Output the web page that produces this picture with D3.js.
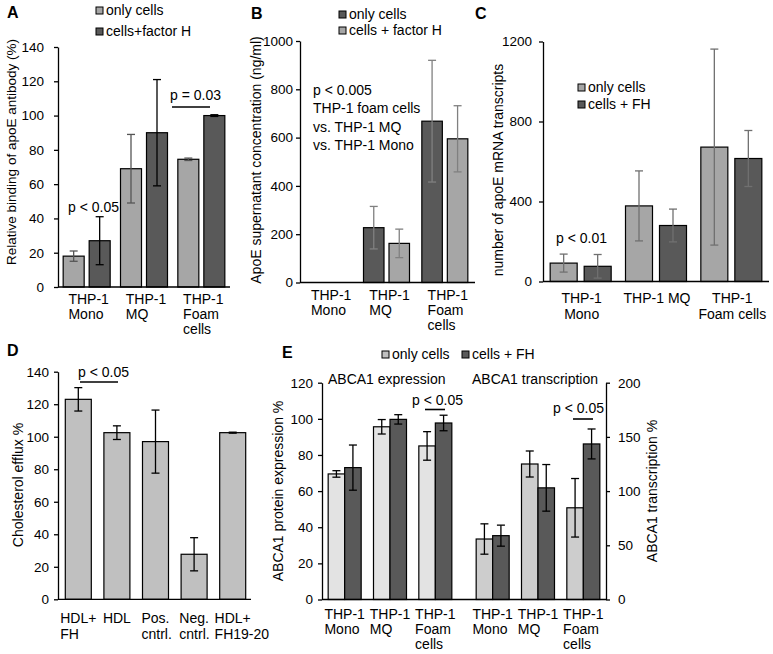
<!DOCTYPE html>
<html><head><meta charset="utf-8">
<script src="https://cdn.jsdelivr.net/npm/d3@7"></script>
<style>body{margin:0;background:#fff}svg{display:block}</style>
</head><body><svg id="c" width="773" height="654"></svg>
<script>
// ---------- DATA ----------
const catsABC = [["THP-1","Mono"],["THP-1","MQ"],["THP-1","Foam","cells"]];
const catsC   = [["THP-1","Mono"],["THP-1 MQ"],["THP-1","Foam cells"]];
const catsD   = [["HDL+","FH"],["HDL"],["Pos.","cntrl."],["Neg.","cntrl."],["HDL+","FH19-20"]];
const catsE   = [["THP-1","Mono"],["THP-1","MQ"],["THP-1","Foam","cells"]];

// A: relative binding of apoE antibody (%)
const aOnly = [18, 69, 74.5],   aOnlyErr = [3, 20, 0.7];
const aFH   = [27, 90, 100],    aFHErr   = [14, 31, 0.5];
// B: ApoE supernatant concentration (ng/ml)
const bOnly = [0, 227, 668],    bOnlyErr = [0, 88, 252];
const bFH   = [0, 162, 595],    bFHErr   = [0, 59, 137];
// C: number of apoE mRNA transcripts
const cOnly = [92, 378, 672],   cOnlyErr = [45, 175, 490];
const cFH   = [76, 280, 615],   cFHErr   = [59, 82, 140];
// D: cholesterol efflux %
const dVals = [123, 102.5, 97, 27.7, 102.5];
const dErr  = [7.2, 4.2, 19.4, 10.2, 0.3];
// E: ABCA1 protein expression % (left) and transcription % (right)
const eExpOnly = [69.5, 95.6, 85],  eExpOnlyErr = [1.8, 4, 7.9];
const eExpFH   = [73, 99.7, 97.7],  eExpFHErr   = [12.5, 2.6, 4.3];
const eTrOnly  = [55.8, 125, 84.6], eTrOnlyErr  = [14, 12, 27];
const eTrFH    = [58.9, 103, 143.5],eTrFHErr    = [9.7, 21.5, 13.8];

const ticksA  = [0,20,40,60,80,100,120,140];
const ticksB  = [0,200,400,600,800,1000];
const ticksC  = [0,400,800,1200];
const ticksD  = [0,20,40,60,80,100,120,140];
const ticksEL = [0,20,40,60,80,100,120];
const ticksER = [0,50,100,150,200];

// ---------- DRAWING ----------
const F = "'Liberation Sans', Arial, Helvetica, sans-serif";
const svg = d3.select("#c");
const LIGHT = "#a6a6a6", DARK = "#595959";

function txt(x, y, s, opt = {}) {
  return svg.append("text").attr("x", x).attr("y", y).text(s)
    .attr("font-family", F).attr("font-size", opt.size || 14)
    .attr("font-weight", opt.bold ? "bold" : "normal")
    .attr("text-anchor", opt.anchor || "start").attr("fill", "#000");
}
function vtxt(cx, cy, s, size = 14) {
  svg.append("text").attr("transform", `translate(${cx},${cy}) rotate(-90)`)
    .attr("text-anchor", "middle").attr("dominant-baseline", "central")
    .attr("font-family", F).attr("font-size", size).text(s);
}
function yAxis(x, y, ticks, side, pad) {
  const ax = (side === "left" ? d3.axisLeft(y) : d3.axisRight(y))
    .tickValues(ticks).tickSize(4).tickSizeOuter(0).tickPadding(pad).tickFormat(d3.format("d"));
  const g = svg.append("g").attr("transform", `translate(${x},0)`).call(ax)
    .attr("font-family", F).attr("font-size", 13.5);
  g.select(".domain").attr("stroke", "#000").attr("stroke-width", 1.3);
  g.selectAll(".tick line").attr("stroke", "#000").attr("stroke-width", 1.3);
  g.selectAll(".tick text").attr("fill", "#000");
}
function xLine(x0, x1, y) {
  svg.append("line").attr("x1", x0).attr("x2", x1).attr("y1", y).attr("y2", y)
    .attr("stroke", "#000").attr("stroke-width", 1.3);
}
function series(xb, y, vals, errs, off, w, fill, errColor) {
  const g = svg.append("g");
  vals.forEach((v, i) => {
    if (v <= 0) return;
    const x = xb(i) + xb.bandwidth() / 2 + off;
    g.append("rect").attr("x", x).attr("y", y(v)).attr("width", w).attr("height", y(0) - y(v))
      .attr("fill", fill).attr("stroke", "#000").attr("stroke-width", 1.2);
  });
  vals.forEach((v, i) => {
    if (v <= 0) return;
    const cx = xb(i) + xb.bandwidth() / 2 + off + w / 2, e = errs[i];
    const y1 = y(v + e), y2 = y(Math.max(0, v - e));
    g.append("line").attr("x1", cx).attr("x2", cx).attr("y1", y1).attr("y2", y2)
      .attr("stroke", errColor).attr("stroke-width", 1.3);
    [y1, y2].forEach(yy => g.append("line").attr("x1", cx - 4).attr("x2", cx + 4)
      .attr("y1", yy).attr("y2", yy).attr("stroke", errColor).attr("stroke-width", 1.3));
  });
}
function catLabels(centers, cats, base, lh, mode) {
  cats.forEach((lines, i) => {
    const t = svg.append("text").attr("font-family", F).attr("font-size", 14);
    const spans = lines.map((s, k) => t.append("tspan").attr("y", base + k * lh).text(s));
    if (mode === "center") {
      t.attr("text-anchor", "middle");
      spans.forEach(sp => sp.attr("x", centers[i]));
    } else {
      const w0 = spans[0].node().getComputedTextLength();
      spans.forEach(sp => sp.attr("x", centers[i] - w0 / 2));
    }
  });
}
function legendItem(x, y, fill, label, size = 14) {
  svg.append("rect").attr("x", x).attr("y", y).attr("width", 7).attr("height", 7)
    .attr("fill", fill).attr("stroke", "#000").attr("stroke-width", 1);
  txt(x + 10, y + 8, label, { size });
}
function sigLine(x1, x2, y) {
  svg.append("line").attr("x1", x1).attr("x2", x2).attr("y1", y).attr("y2", y)
    .attr("stroke", "#000").attr("stroke-width", 1.6);
}

// ---- Panel A ----
{
  const xb = d3.scaleBand().domain(d3.range(3)).range([58, 230]);
  const y = d3.scaleLinear().domain([0, 140]).range([287, 47]);
  series(xb, y, aOnly, aOnlyErr, -23.5, 21, LIGHT, "#555");
  series(xb, y, aFH, aFHErr, 2.5, 21, DARK, "#000");
  yAxis(58, y, ticksA, "left", 10);
  xLine(58, 230, 287);
  catLabels(d3.range(3).map(i => xb(i) + xb.bandwidth() / 2 + 2), catsABC, 304, 15, "left");
  vtxt(11, 152, "Relative binding of apoE antibody (%)", 13.5);
  txt(7, 18, "A", { bold: true, size: 16 });
  legendItem(96, 7, LIGHT, "only cells");
  legendItem(96, 28, DARK, "cells+factor H");
  txt(68, 212, "p < 0.05");
  txt(170, 100, "p = 0.03");
  sigLine(172, 210, 107);
}
// ---- Panel B ----
{
  const xb = d3.scaleBand().domain(d3.range(3)).range([300, 475]);
  const y = d3.scaleLinear().domain([0, 1000]).range([282.5, 41]);
  series(xb, y, bOnly, bOnlyErr, -24, 20.5, DARK, "#808080");
  series(xb, y, bFH, bFHErr, 1.5, 20.5, LIGHT, "#808080");
  yAxis(300, y, ticksB, "left", 3);
  xLine(300, 475, 282.5);
  catLabels(d3.range(3).map(i => xb(i) + xb.bandwidth() / 2 + 2), catsABC, 300, 15, "left");
  vtxt(256, 160, "ApoE supernatant concentration (ng/ml)", 14);
  txt(251, 19, "B", { bold: true, size: 16 });
  legendItem(339, 11, DARK, "only cells");
  legendItem(339, 27, LIGHT, "cells + factor H");
  ["p < 0.005", "THP-1 foam cells", "vs. THP-1 MQ", "vs. THP-1 Mono"]
    .forEach((s, k) => txt(313, 95 + k * 18.3, s));
}
// ---- Panel C ----
{
  const xb = d3.scaleBand().domain(d3.range(3)).range([543, 769]);
  const y = d3.scaleLinear().domain([0, 1200]).range([281.5, 41.5]);
  series(xb, y, cOnly, cOnlyErr, -30.5, 27, LIGHT, "#707070");
  series(xb, y, cFH, cFHErr, 3.5, 27, DARK, "#707070");
  yAxis(543, y, ticksC, "left", 7);
  xLine(543, 769, 281.5);
  catLabels(d3.range(3).map(i => xb(i) + xb.bandwidth() / 2 + 1), catsC, 303, 16, "center");
  vtxt(498, 170, "number of apoE mRNA transcripts", 14);
  txt(475, 19, "C", { bold: true, size: 16 });
  legendItem(578, 84, LIGHT, "only cells");
  legendItem(578, 101, DARK, "cells + FH");
  txt(556, 243, "p < 0.01");
}
// ---- Panel D ----
{
  const xb = d3.scaleBand().domain(d3.range(5)).range([58, 251]);
  const y = d3.scaleLinear().domain([0, 140]).range([599.3, 371.7]);
  series(xb, y, dVals, dErr, -12, 26, "#c0c0c0", "#000");
  yAxis(58, y, ticksD, "left", 5);
  xLine(58, 251, 599.3);
  catLabels(d3.range(5).map(i => xb(i) + xb.bandwidth() / 2 + 1), catsD, 623, 16, "left");
  vtxt(18, 485, "Cholesterol efflux %", 14);
  txt(7, 356, "D", { bold: true, size: 16 });
  txt(78, 377, "p < 0.05");
  sigLine(80, 118, 382);
}
// ---- Panel E ----
{
  const xl = d3.scaleBand().domain(d3.range(3)).range([322, 458]);
  const xr = d3.scaleBand().domain(d3.range(3)).range([470, 606]);
  const yl = d3.scaleLinear().domain([0, 120]).range([599.5, 382.7]);
  const yr = d3.scaleLinear().domain([0, 200]).range([599.5, 382.7]);
  series(xl, yl, eExpOnly, eExpOnlyErr, -16.5, 16.5, "#e3e3e3", "#000");
  series(xl, yl, eExpFH, eExpFHErr, 0, 16.5, DARK, "#000");
  series(xr, yr, eTrOnly, eTrOnlyErr, -16.5, 16.5, "#cdcdcd", "#000");
  series(xr, yr, eTrFH, eTrFHErr, 0, 16.5, DARK, "#000");
  yAxis(322, yl, ticksEL, "left", 5);
  yAxis(606, yr, ticksER, "right", 8);
  xLine(322, 606, 599.5);
  catLabels(d3.range(3).map(i => xl(i) + xl.bandwidth() / 2), catsE, 619, 15, "left");
  catLabels(d3.range(3).map(i => xr(i) + xr.bandwidth() / 2), catsE, 619, 15, "left");
  vtxt(278, 491, "ABCA1 protein expression %", 14);
  vtxt(652, 491, "ABCA1 transcription %", 14);
  txt(282, 358, "E", { bold: true, size: 16 });
  legendItem(382, 351, "#c0c0c0", "only cells");
  legendItem(462, 351, DARK, "cells + FH");
  txt(328, 384, "ABCA1 expression");
  txt(472, 384, "ABCA1 transcription");
  txt(412, 405, "p < 0.05");
  sigLine(425, 445, 409.5);
  txt(553, 413, "p < 0.05");
  sigLine(573, 593, 419);
}
</script></body></html>
